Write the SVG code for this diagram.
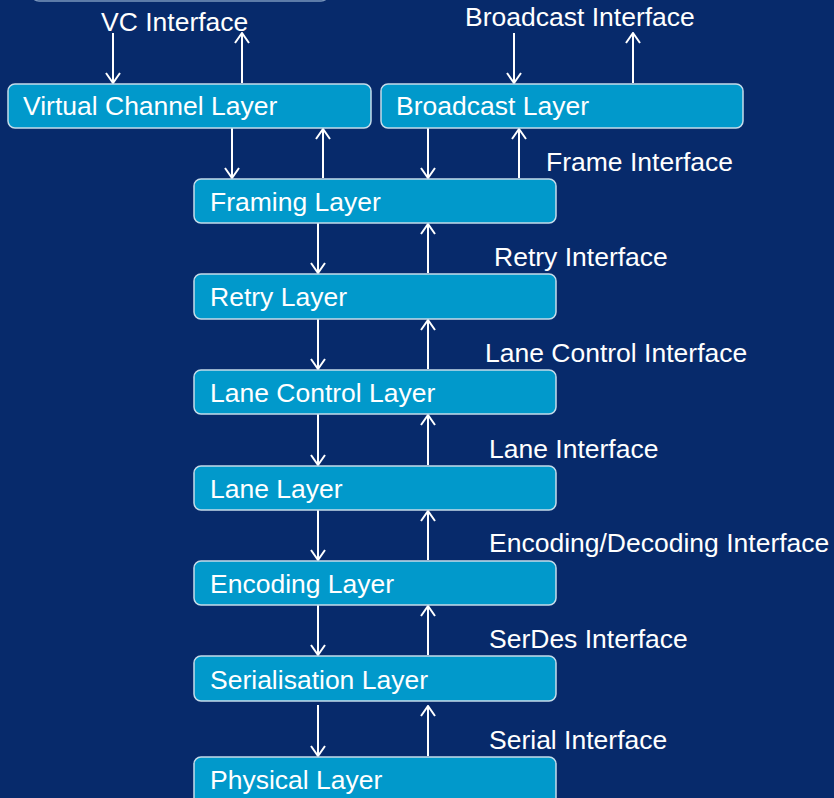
<svg xmlns="http://www.w3.org/2000/svg" width="834" height="798" viewBox="0 0 834 798">
<style>
.box{fill:#0199cb;stroke:#c5dcea;stroke-width:1.5}
.t{font-family:"Liberation Sans",Arial,sans-serif;font-size:26.5px;fill:#ffffff}
.c{stroke:#ffffff;stroke-width:2;fill:none}
</style>
<defs>
<marker id="ah" viewBox="0 0 12 16" refX="11" refY="8" markerWidth="12" markerHeight="16" markerUnits="userSpaceOnUse" orient="auto">
<path d="M1,1 L11,8 L1,15" fill="none" stroke="#ffffff" stroke-width="2"/>
</marker>
</defs>
<rect width="834" height="798" fill="#072a6b"/>
<g id="top-partial"><rect x="31" y="-40" width="298" height="41" rx="8" fill="#0a2d6e" stroke="#7a96bd" stroke-width="1.5"/></g>
<g id="connectors">
<line class="c" x1="113" y1="33" x2="113" y2="83" marker-end="url(#ah)"/>
<line class="c" x1="242" y1="83" x2="242" y2="33" marker-end="url(#ah)"/>
<line class="c" x1="514" y1="33" x2="514" y2="83" marker-end="url(#ah)"/>
<line class="c" x1="633" y1="83" x2="633" y2="33" marker-end="url(#ah)"/>
<line class="c" x1="232" y1="128" x2="232" y2="178" marker-end="url(#ah)"/>
<line class="c" x1="323" y1="178" x2="323" y2="129" marker-end="url(#ah)"/>
<line class="c" x1="428" y1="128" x2="428" y2="178" marker-end="url(#ah)"/>
<line class="c" x1="519" y1="178" x2="519" y2="129" marker-end="url(#ah)"/>
<line class="c" x1="318" y1="223" x2="318" y2="273" marker-end="url(#ah)"/>
<line class="c" x1="428" y1="273" x2="428" y2="224" marker-end="url(#ah)"/>
<line class="c" x1="318" y1="319" x2="318" y2="369" marker-end="url(#ah)"/>
<line class="c" x1="428" y1="369" x2="428" y2="320" marker-end="url(#ah)"/>
<line class="c" x1="318" y1="414" x2="318" y2="465" marker-end="url(#ah)"/>
<line class="c" x1="428" y1="465" x2="428" y2="415" marker-end="url(#ah)"/>
<line class="c" x1="318" y1="510" x2="318" y2="560" marker-end="url(#ah)"/>
<line class="c" x1="428" y1="560" x2="428" y2="511" marker-end="url(#ah)"/>
<line class="c" x1="318" y1="605" x2="318" y2="655" marker-end="url(#ah)"/>
<line class="c" x1="428" y1="655" x2="428" y2="606" marker-end="url(#ah)"/>
<line class="c" x1="318" y1="705" x2="318" y2="756" marker-end="url(#ah)"/>
<line class="c" x1="428" y1="756" x2="428" y2="706" marker-end="url(#ah)"/>
</g>
<g id="vc"><rect class="box" x="8" y="84" width="363" height="44" rx="7"/><text class="t" x="23" y="115">Virtual Channel Layer</text></g>
<g id="broadcast"><rect class="box" x="381" y="84" width="362" height="44" rx="7"/><text class="t" x="396" y="115">Broadcast Layer</text></g>
<g id="framing"><rect class="box" x="194" y="179" width="362" height="44" rx="7"/><text class="t" x="210" y="211">Framing Layer</text></g>
<g id="retry"><rect class="box" x="194" y="274" width="362" height="45" rx="7"/><text class="t" x="210" y="306">Retry Layer</text></g>
<g id="lanecontrol"><rect class="box" x="194" y="370" width="362" height="44" rx="7"/><text class="t" x="210" y="402">Lane Control Layer</text></g>
<g id="lane"><rect class="box" x="194" y="466" width="362" height="44" rx="7"/><text class="t" x="210" y="498">Lane Layer</text></g>
<g id="encoding"><rect class="box" x="194" y="561" width="362" height="44" rx="7"/><text class="t" x="210" y="593">Encoding Layer</text></g>
<g id="serialisation"><rect class="box" x="194" y="656" width="362" height="45" rx="7"/><text class="t" x="210" y="689">Serialisation Layer</text></g>
<g id="physical"><rect class="box" x="194" y="757" width="362" height="50" rx="7"/><text class="t" x="210" y="789">Physical Layer</text></g>
<g id="labels">
<text class="t" x="101" y="31">VC Interface</text>
<text class="t" x="465" y="26">Broadcast Interface</text>
<text class="t" x="546" y="171">Frame Interface</text>
<text class="t" x="494" y="266">Retry Interface</text>
<text class="t" x="485" y="362">Lane Control Interface</text>
<text class="t" x="489" y="458">Lane Interface</text>
<text class="t" x="489" y="552">Encoding/Decoding Interface</text>
<text class="t" x="489" y="648">SerDes Interface</text>
<text class="t" x="489" y="749">Serial Interface</text>
</g>
</svg>
